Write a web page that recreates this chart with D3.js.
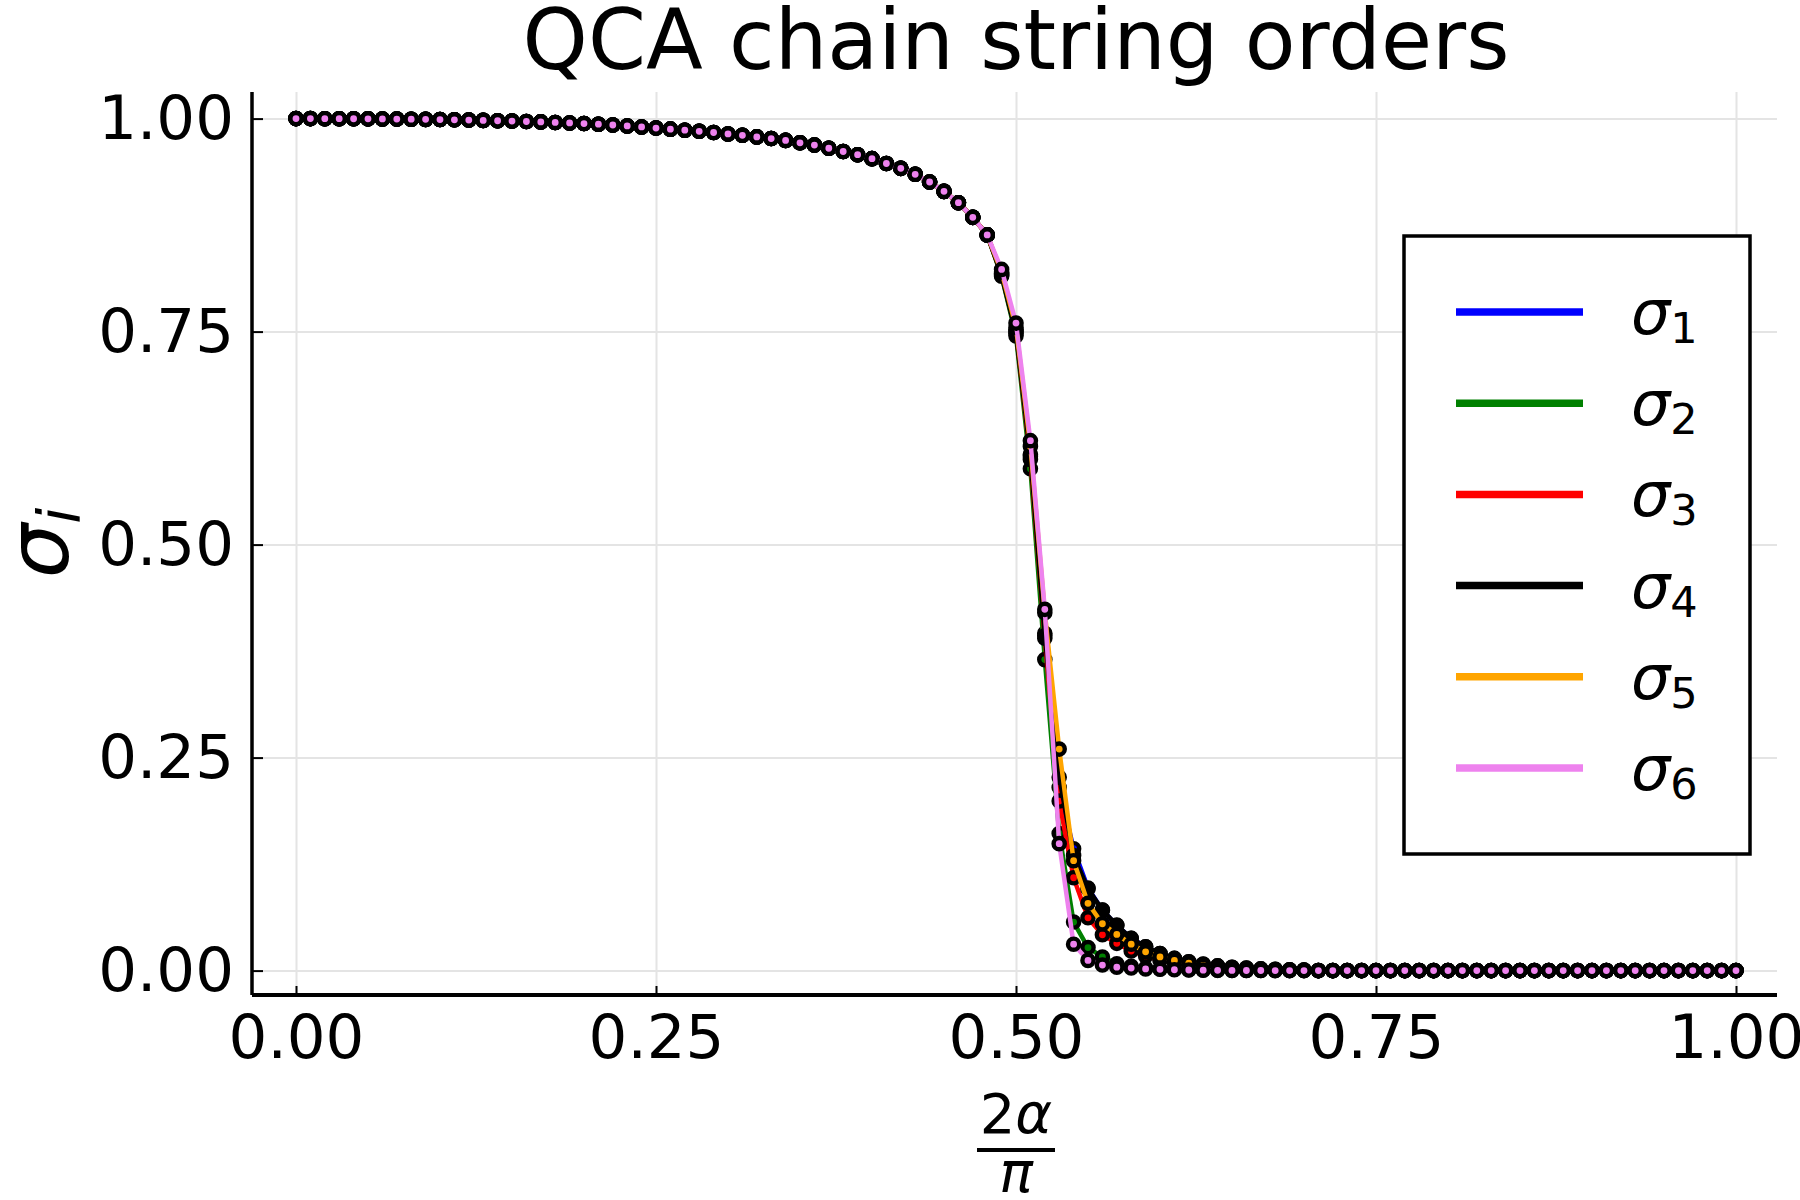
<!DOCTYPE html>
<html>
<head>
<meta charset="utf-8">
<script src="https://cdn.jsdelivr.net/npm/d3@7"></script>
<style>
  body { margin: 0; background: #fff; }
  text { font-family: "DejaVu Sans", sans-serif; }
</style>
</head>
<body>
<div id="chart"></div>
<script>
// x values: 2*alpha/pi
var alphaGrid = [0.00, 0.01, 0.02, 0.03, 0.04, 0.05, 0.06, 0.07, 0.08, 0.09,
  0.10, 0.11, 0.12, 0.13, 0.14, 0.15, 0.16, 0.17, 0.18, 0.19,
  0.20, 0.21, 0.22, 0.23, 0.24, 0.25, 0.26, 0.27, 0.28, 0.29,
  0.30, 0.31, 0.32, 0.33, 0.34, 0.35, 0.36, 0.37, 0.38, 0.39,
  0.40, 0.41, 0.42, 0.43, 0.44, 0.45, 0.46, 0.47, 0.48, 0.49,
  0.50, 0.51, 0.52, 0.53, 0.54, 0.55, 0.56, 0.57, 0.58, 0.59,
  0.60, 0.61, 0.62, 0.63, 0.64, 0.65, 0.66, 0.67, 0.68, 0.69,
  0.70, 0.71, 0.72, 0.73, 0.74, 0.75, 0.76, 0.77, 0.78, 0.79,
  0.80, 0.81, 0.82, 0.83, 0.84, 0.85, 0.86, 0.87, 0.88, 0.89,
  0.90, 0.91, 0.92, 0.93, 0.94, 0.95, 0.96, 0.97, 0.98, 0.99, 1.00];

// all six orders coincide for 0.00 .. 0.48
var sharedHead = [1.0000, 1.0000, 0.9999, 0.9999, 0.9998, 0.9997, 0.9996, 0.9995, 0.9993, 0.9991,
  0.9989, 0.9986, 0.9983, 0.9979, 0.9975, 0.9971, 0.9966, 0.9961, 0.9955, 0.9949,
  0.9942, 0.9934, 0.9925, 0.9914, 0.9902, 0.9889, 0.9876, 0.9864, 0.9851, 0.9837,
  0.9820, 0.9804, 0.9785, 0.9766, 0.9744, 0.9716, 0.9689, 0.9652, 0.9614, 0.9576,
  0.9530, 0.9473, 0.9416, 0.9346, 0.9256, 0.9146, 0.9013, 0.8841, 0.8635];

// 0.49 .. 0.70, where the orders split
var sigma1Mid = [0.818, 0.752, 0.606, 0.396, 0.215, 0.143, 0.097, 0.071, 0.053, 0.038, 0.028,
  0.020, 0.0143, 0.0103, 0.0075, 0.0055, 0.004, 0.003, 0.002, 0.0015, 0.001, 0.0007];
var sigma2Mid = [0.815, 0.745, 0.589, 0.365, 0.161, 0.057, 0.027, 0.016, 0.008, 0.005, 0.003,
  0.002, 0.0015, 0.001, 0.0007, 0.0005, 0.0003, 0.0002, 0.0001, 0.0001, 0, 0];
var sigma3Mid = [0.817, 0.750, 0.600, 0.390, 0.199, 0.109, 0.062, 0.042, 0.032, 0.023, 0.017,
  0.012, 0.009, 0.0065, 0.0045, 0.003, 0.002, 0.0015, 0.001, 0.0007, 0.0005, 0.0003];
var sigma4Mid = [0.816, 0.748, 0.604, 0.393, 0.227, 0.135, 0.096, 0.071, 0.0534, 0.0378, 0.028,
  0.020, 0.0143, 0.0103, 0.0076, 0.0055, 0.004, 0.003, 0.002, 0.0015, 0.001, 0.0007];
var sigma5Mid = [0.820, 0.755, 0.615, 0.420, 0.260, 0.129, 0.079, 0.055, 0.0425, 0.031, 0.022,
  0.016, 0.012, 0.0088, 0.006, 0.0045, 0.003, 0.002, 0.0015, 0.001, 0.0007, 0.0005];
var sigma6Mid = [0.823, 0.760, 0.622, 0.424, 0.149, 0.031, 0.012, 0.0065, 0.004, 0.003, 0.002,
  0.0015, 0.001, 0.0007, 0.0005, 0.0003, 0.0002, 0.0001, 0.0001, 0, 0, 0];

// 0.71 .. 1.00, all zero
var sharedTail = [0, 0, 0, 0, 0, 0, 0, 0, 0, 0,
  0, 0, 0, 0, 0, 0, 0, 0, 0, 0,
  0, 0, 0, 0, 0, 0, 0, 0, 0, 0];

var seriesNames = ["1", "2", "3", "4", "5", "6"];
var seriesColors = ["#0000ff", "#008000", "#ff0000", "#000000", "#ffa500", "#ee82ee"];
var seriesMid = [sigma1Mid, sigma2Mid, sigma3Mid, sigma4Mid, sigma5Mid, sigma6Mid];

var xTicks = [0, 0.25, 0.5, 0.75, 1];
var yTicks = [0, 0.25, 0.5, 0.75, 1];

var series = seriesNames.map(function(name, i) {
  var vals = sharedHead.concat(seriesMid[i], sharedTail);
  return {
    name: name,
    color: seriesColors[i],
    points: alphaGrid.map(function(a, j) { return [a, vals[j]]; })
  };
});

// frame
var Frame = {left: 252, right: 1777, top: 92, bottom: 995};

var svg = d3.select("#chart").append("svg")
  .attr("width", 1800)
  .attr("height", 1200);

svg.append("rect").attr("width", 1800).attr("height", 1200).attr("fill", "#fff");

var xScale = d3.scaleLinear().domain([0, 1]).range([296, 1736]);
var yScale = d3.scaleLinear().domain([0, 1]).range([970.6, 118.6]);

// grid lines
svg.append("g")
  .attr("transform", "translate(0," + Frame.bottom + ")")
  .call(d3.axisBottom(xScale).tickValues(xTicks).tickSize(-(Frame.bottom - Frame.top)).tickFormat(""))
  .call(function(g) {
    g.select(".domain").remove();
    g.selectAll("line").attr("stroke", "#e4e4e4").attr("stroke-width", 2);
  });
svg.append("g")
  .attr("transform", "translate(" + Frame.left + ",0)")
  .call(d3.axisLeft(yScale).tickValues(yTicks).tickSize(-(Frame.right - Frame.left)).tickFormat(""))
  .call(function(g) {
    g.select(".domain").remove();
    g.selectAll("line").attr("stroke", "#e4e4e4").attr("stroke-width", 2);
  });

// series: line then markers
var line = d3.line()
  .x(function(d) { return xScale(d[0]); })
  .y(function(d) { return yScale(d[1]); });

series.forEach(function(s) {
  var g = svg.append("g");
  g.append("path")
    .attr("d", line(s.points))
    .attr("fill", "none")
    .attr("stroke", s.color)
    .attr("stroke-width", 4.5)
    .attr("stroke-linejoin", "round");
  g.selectAll("circle")
    .data(s.points)
    .enter()
    .append("circle")
    .attr("cx", function(d) { return xScale(d[0]); })
    .attr("cy", function(d) { return yScale(d[1]); })
    .attr("r", 5.6)
    .attr("fill", s.color)
    .attr("stroke", "#000")
    .attr("stroke-width", 4.4);
});

// axes with inward ticks and labels
var xAxis = svg.append("g")
  .attr("transform", "translate(0," + Frame.bottom + ")")
  .call(d3.axisBottom(xScale).tickValues(xTicks).tickSize(-9).tickPadding(20).tickFormat(d3.format(".2f")));
xAxis.select(".domain").remove();
xAxis.selectAll("line").attr("stroke", "#000").attr("stroke-width", 2);
xAxis.selectAll("text").style("font-size", "61px").attr("fill", "#000");

var yAxis = svg.append("g")
  .attr("transform", "translate(" + Frame.left + ",0)")
  .call(d3.axisLeft(yScale).tickValues(yTicks).tickSize(-11).tickPadding(18).tickFormat(d3.format(".2f")));
yAxis.select(".domain").remove();
yAxis.selectAll("line").attr("stroke", "#000").attr("stroke-width", 2);
yAxis.selectAll("text").style("font-size", "61px").attr("fill", "#000");

svg.append("line")
  .attr("x1", Frame.left).attr("x2", Frame.right)
  .attr("y1", Frame.bottom).attr("y2", Frame.bottom)
  .attr("stroke", "#000").attr("stroke-width", 4);
svg.append("line")
  .attr("x1", Frame.left).attr("x2", Frame.left)
  .attr("y1", Frame.top).attr("y2", Frame.bottom)
  .attr("stroke", "#000").attr("stroke-width", 3.5);

// title
svg.append("text")
  .attr("x", 1016).attr("y", 69)
  .attr("text-anchor", "middle")
  .style("font-size", "83px")
  .text("QCA chain string orders");

// x label: 2α / π
var xLab = svg.append("text")
  .attr("x", 1016).attr("y", 1133)
  .attr("text-anchor", "middle")
  .style("font-size", "56px");
xLab.append("tspan").text("2");
xLab.append("tspan").style("font-style", "italic").text("α");
svg.append("line")
  .attr("x1", 977).attr("x2", 1055)
  .attr("y1", 1150).attr("y2", 1150)
  .attr("stroke", "#000").attr("stroke-width", 4);
svg.append("text")
  .attr("x", 1016).attr("y", 1192)
  .attr("text-anchor", "middle")
  .style("font-size", "56px")
  .style("font-style", "italic")
  .text("π");

// y label: σ_i
var yLab = svg.append("text")
  .attr("transform", "translate(68,543) rotate(-90)")
  .attr("text-anchor", "middle")
  .style("font-style", "italic");
yLab.append("tspan").style("font-size", "86px").text("σ");
yLab.append("tspan").style("font-size", "58px").attr("dy", 12).text("i");

// legend
var legend = svg.append("g");
legend.append("rect")
  .attr("x", 1404).attr("y", 236)
  .attr("width", 346).attr("height", 618)
  .attr("fill", "#fff")
  .attr("stroke", "#000")
  .attr("stroke-width", 3.5);

var rowY = d3.scalePoint().domain(seriesNames).range([312, 768]);
var rows = legend.selectAll(".row")
  .data(series)
  .enter()
  .append("g")
  .attr("class", "row")
  .attr("transform", function(d) { return "translate(0," + rowY(d.name) + ")"; });
rows.append("line")
  .attr("x1", 1456).attr("x2", 1583)
  .attr("stroke", function(d) { return d.color; })
  .attr("stroke-width", 7.5);
var lt = rows.append("text")
  .attr("x", 1631).attr("y", 22);
lt.append("tspan").style("font-size", "62px").style("font-style", "italic").text("σ");
lt.append("tspan").style("font-size", "43px").attr("dy", 9).text(function(d) { return d.name; });
</script>
</body>
</html>
